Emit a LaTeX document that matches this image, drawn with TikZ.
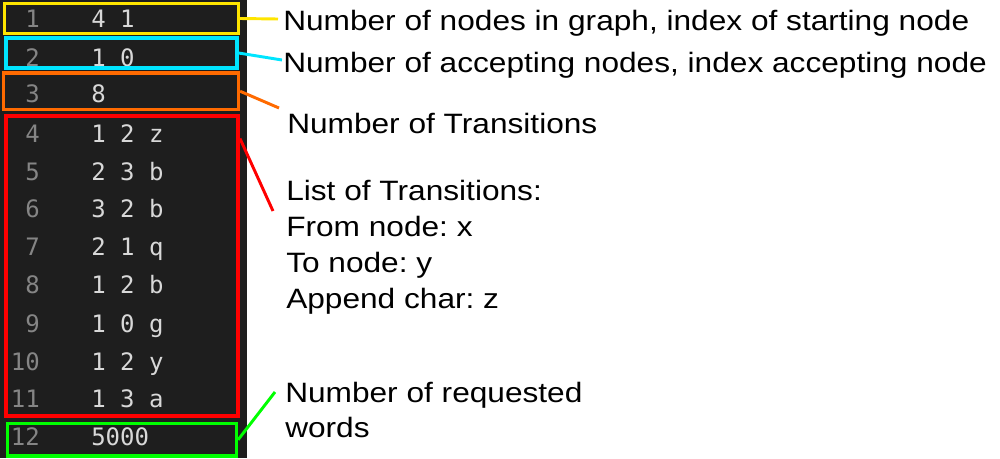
\documentclass[tikz,border=0pt]{standalone}
\usepackage{fontspec}
\setmainfont{Liberation Sans}[FakeStretch=1.13]
\setmonofont{DejaVu Sans Mono}
\frenchspacing
\usetikzlibrary{fit}

\begin{document}
\begin{tikzpicture}[x=0.75pt,y=-0.75pt,
  riquadro/.style={draw=#1, line width=2.4pt, inner sep=0pt},
  guida/.style={draw=#1, line width=2.2pt},
  nota/.style={anchor=base west, inner sep=0pt, font=\fontsize{21}{25}\selectfont},
  numriga/.style={anchor=base east, inner sep=0pt, font=\ttfamily\fontsize{18}{20}\selectfont, text=numGray},
  valore/.style={anchor=base west, inner sep=0pt, font=\ttfamily\fontsize{18}{20}\selectfont, text=valGray}]

% Colori
\definecolor{bgDark}{HTML}{1E1E1E}
\definecolor{numGray}{HTML}{858585}
\definecolor{valGray}{HTML}{D8D8D8}
\definecolor{colYel}{HTML}{FFE500}
\definecolor{colCya}{HTML}{00E5FF}
\definecolor{colOra}{HTML}{FF6A00}
\definecolor{colRed}{HTML}{FF0000}
\definecolor{colGre}{HTML}{00FF00}

% Area e sfondo dell'editor
\useasboundingbox (0,0) rectangle (1000,458);
\fill[bgDark] (0,0) rectangle (247,458);

% Righe del file (numero di riga / baseline / contenuto)
\foreach \n/\b/\t in {1/27/{4 1}, 2/66/{1 0}, 3/102/8, 4/142/{1 2 z}, 5/180/{2 3 b},
    6/217/{3 2 b}, 7/255/{2 1 q}, 8/293/{1 2 b}, 9/332/{1 0 g}, 10/370/{1 2 y},
    11/407/{1 3 a}, 12/445/5000} {
  \node[numriga] (num\n) at (40,\b) {\n};
  \node[valore] (val\n) at (91,\b) {\t};
}

% Riquadri colorati
\node[riquadro=colYel, fit={(4.5,3.5) (238.5,33.5)}] (boxY) {};
\node[riquadro=colCya, fit={(6,38) (237,68)}] (boxC) {};
\node[riquadro=colOra, fit={(3.5,73) (238.5,109.5)}] (boxO) {};
\node[riquadro=colRed, line width=3pt, fit={(5.5,115.5) (238,416)}] (boxR) {};
\node[riquadro=colGre, fit={(7.5,423.5) (236.5,456)}] (boxG) {};

% Didascalie
\node[nota] (txtY) at (283,30) {Number of nodes in graph, index of starting node};
\node[nota] (txtC) at (283,72) {Number of accepting nodes, index accepting node};
\node[nota] (txtO) at (287,133) {Number of Transitions};
\node[nota] (txtR1) at (286,200) {List of Transitions:};
\node[nota] (txtR2) at (286,236) {From node: x};
\node[nota] (txtR3) at (286,272) {To node: y};
\node[nota] (txtR4) at (286,308) {Append char: z};
\node[nota] (txtG1) at (285,402) {Number of requested};
\node[nota] (txtG2) at (285,437) {words};

% Estremi liberi dei segmenti
\coordinate (endY) at (278,19);
\coordinate (endC) at (282,60);
\coordinate (endO) at (279,108);
\coordinate (endR) at (273,211);
\coordinate (endG) at (275,392);

% Segmenti
\draw[guida=colYel] (boxY.east) -- (endY);
\draw[guida=colCya] (boxC.east) -- (endC);
\draw[guida=colOra] (boxO.east) -- (endO);
\draw[guida=colRed] (boxR.north east) ++(0,25) -- (endR);
\draw[guida=colGre] (boxG.east) -- (endG);

\end{tikzpicture}
\end{document}
